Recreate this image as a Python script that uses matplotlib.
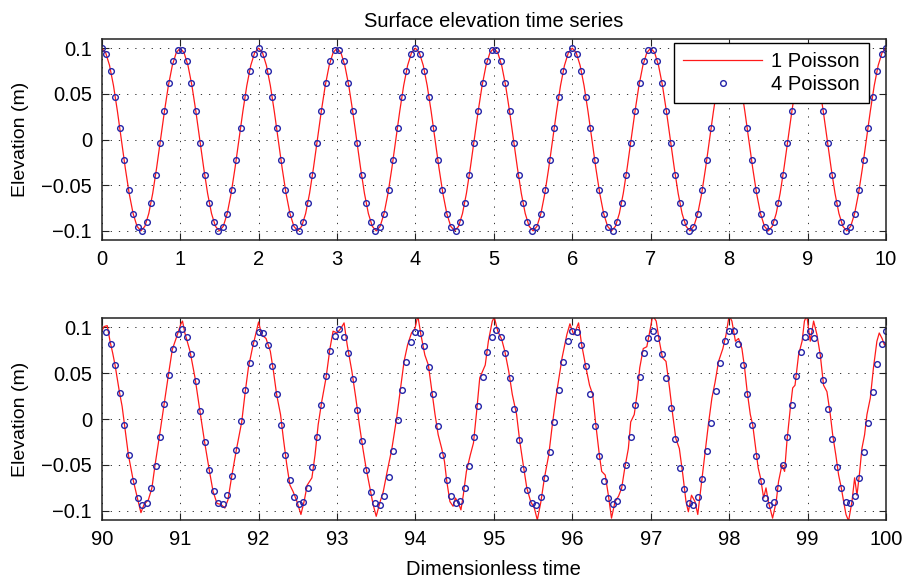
import numpy as np
import matplotlib
matplotlib.use("Agg")
import matplotlib.pyplot as plt
from matplotlib.lines import Line2D

plt.rcParams['font.family'] = ['Liberation Sans', 'DejaVu Sans']
plt.rcParams['lines.scale_dashes'] = False

# sampling interval of the "4 Poisson" markers
marker_dt = 2 / 35

# top panel, t = 0..10
top_line_y = [
    0.1, 0.095, 0.081, 0.059, 0.031, 0.0, -0.031, -0.059, -0.081, -0.095, -0.1, -0.095, -0.081, -0.059, -0.031, 0.0, 0.031, 0.059, 0.081, 0.095,
    0.1, 0.095, 0.081, 0.059, 0.031, 0.0, -0.031, -0.059, -0.081, -0.095, -0.1, -0.095, -0.081, -0.059, -0.031, 0.0, 0.031, 0.059, 0.081, 0.095,
    0.1, 0.095, 0.081, 0.059, 0.031, 0.0, -0.031, -0.059, -0.081, -0.095, -0.1, -0.095, -0.081, -0.059, -0.031, 0.0, 0.031, 0.059, 0.081, 0.095,
    0.1, 0.095, 0.081, 0.059, 0.031, 0.0, -0.031, -0.059, -0.081, -0.095, -0.1, -0.095, -0.081, -0.059, -0.031, 0.0, 0.031, 0.059, 0.081, 0.095,
    0.1, 0.095, 0.081, 0.059, 0.031, 0.0, -0.031, -0.059, -0.081, -0.095, -0.1, -0.095, -0.081, -0.059, -0.031, 0.0, 0.031, 0.059, 0.081, 0.095,
    0.1, 0.095, 0.081, 0.059, 0.031, 0.0, -0.031, -0.059, -0.081, -0.095, -0.1, -0.095, -0.081, -0.059, -0.031, 0.0, 0.031, 0.059, 0.081, 0.095,
    0.1, 0.095, 0.081, 0.059, 0.031, 0.0, -0.031, -0.059, -0.081, -0.095, -0.1, -0.095, -0.081, -0.059, -0.031, 0.0, 0.031, 0.059, 0.081, 0.095,
    0.1, 0.095, 0.081, 0.059, 0.031, 0.0, -0.031, -0.059, -0.081, -0.095, -0.1, -0.095, -0.081, -0.059, -0.031, 0.0, 0.031, 0.059, 0.081, 0.095,
    0.1, 0.095, 0.081, 0.059, 0.031, 0.0, -0.031, -0.059, -0.081, -0.095, -0.1, -0.095, -0.081, -0.059, -0.031, 0.0, 0.031, 0.059, 0.081, 0.095,
    0.1, 0.095, 0.081, 0.059, 0.031, 0.0, -0.031, -0.059, -0.081, -0.095, -0.1, -0.095, -0.081, -0.059, -0.031, 0.0, 0.031, 0.059, 0.081, 0.095,
    0.1,
]
top_line_t = np.linspace(0, 10, len(top_line_y))

top_markers_y = [
    0.100, 0.094, 0.075, 0.047, 0.013, -0.022, -0.055, -0.081, -0.096, -0.100, -0.090, -0.069, -0.039, -0.004, 0.031, 0.062, 0.086, 0.098,
    0.098, 0.086, 0.062, 0.031, -0.004, -0.039, -0.069, -0.090, -0.100, -0.096, -0.081, -0.055, -0.022, 0.013, 0.047, 0.075, 0.094,
    0.100, 0.094, 0.075, 0.047, 0.013, -0.022, -0.055, -0.081, -0.096, -0.100, -0.090, -0.069, -0.039, -0.004, 0.031, 0.062, 0.086, 0.098,
    0.098, 0.086, 0.062, 0.031, -0.004, -0.039, -0.069, -0.090, -0.100, -0.096, -0.081, -0.055, -0.022, 0.013, 0.047, 0.075, 0.094,
    0.100, 0.094, 0.075, 0.047, 0.013, -0.022, -0.055, -0.081, -0.096, -0.100, -0.090, -0.069, -0.039, -0.004, 0.031, 0.062, 0.086, 0.098,
    0.098, 0.086, 0.062, 0.031, -0.004, -0.039, -0.069, -0.090, -0.100, -0.096, -0.081, -0.055, -0.022, 0.013, 0.047, 0.075, 0.094,
    0.100, 0.094, 0.075, 0.047, 0.013, -0.022, -0.055, -0.081, -0.096, -0.100, -0.090, -0.069, -0.039, -0.004, 0.031, 0.062, 0.086, 0.098,
    0.098, 0.086, 0.062, 0.031, -0.004, -0.039, -0.069, -0.090, -0.100, -0.096, -0.081, -0.055, -0.022, 0.013, 0.047, 0.075, 0.094,
    0.100, 0.094, 0.075, 0.047, 0.013, -0.022, -0.055, -0.081, -0.096, -0.100, -0.090, -0.069, -0.039, -0.004, 0.031, 0.062, 0.086, 0.098,
    0.098, 0.086, 0.062, 0.031, -0.004, -0.039, -0.069, -0.090, -0.100, -0.096, -0.081, -0.055, -0.022, 0.013, 0.047, 0.075, 0.094,
    0.100,
]
top_markers_t = np.arange(len(top_markers_y)) * marker_dt

# bottom panel, t = 90..100
bottom_line_t = [
    90.00, 90.03, 90.07, 90.106, 90.14, 90.17, 90.20, 90.225, 90.26, 90.29, 90.34, 90.40, 90.46, 90.50, 90.54, 90.595, 90.64, 90.68,
    90.735, 90.795, 90.85, 90.90, 90.956, 91.01, 91.03, 91.06, 91.126, 91.19, 91.25, 91.31, 91.37, 91.42, 91.47, 91.52, 91.57, 91.61,
    91.66, 91.72, 91.785, 91.83, 91.87, 91.92, 91.976, 92.00, 92.04, 92.095, 92.15, 92.19, 92.23, 92.28, 92.316, 92.36, 92.40, 92.44,
    92.49, 92.54, 92.58, 92.62, 92.68, 92.72, 92.76, 92.805, 92.86, 92.91, 92.95, 93.00, 93.05, 93.09, 93.13, 93.19, 93.24, 93.285,
    93.33, 93.37, 93.42, 93.46, 93.50, 93.55, 93.59, 93.64, 93.70, 93.76, 93.81, 93.855, 93.90, 93.95, 93.995, 94.03, 94.07, 94.12,
    94.165, 94.21, 94.25, 94.29, 94.335, 94.37, 94.40, 94.44, 94.48, 94.51, 94.55, 94.58, 94.61, 94.65, 94.70, 94.74, 94.78, 94.82,
    94.89, 94.93, 94.98, 95.006, 95.05, 95.10, 95.14, 95.19, 95.235, 95.29, 95.33, 95.375, 95.42, 95.47, 95.516, 95.554, 95.60, 95.645,
    95.70, 95.74, 95.79, 95.83, 95.87, 95.93, 95.97, 96.02, 96.08, 96.12, 96.175, 96.22, 96.26, 96.30, 96.345, 96.375, 96.42, 96.46,
    96.50, 96.545, 96.59, 96.63, 96.67, 96.715, 96.745, 96.79, 96.83, 96.86, 96.905, 96.95, 96.98, 97.025, 97.07, 97.11, 97.15, 97.195,
    97.24, 97.28, 97.32, 97.365, 97.41, 97.45, 97.48, 97.52, 97.565, 97.60, 97.65, 97.69, 97.735, 97.78, 97.82, 97.865, 97.92, 97.96,
    98.00, 98.035, 98.08, 98.12, 98.163, 98.197, 98.23, 98.27, 98.30, 98.333, 98.37, 98.40, 98.44, 98.47, 98.50, 98.554, 98.60, 98.63,
    98.673, 98.707, 98.737, 98.78, 98.81, 98.84, 98.885, 98.93, 98.96, 98.99, 99.034, 99.077, 99.12, 99.162, 99.204, 99.247, 99.29, 99.32,
    99.36, 99.396, 99.43, 99.46, 99.49, 99.523, 99.566, 99.60, 99.63, 99.66, 99.693, 99.727, 99.757, 99.80, 99.84, 99.884, 99.914, 99.95,
    99.98, 100.00,
]
bottom_line_y = [
    0.096, 0.101, 0.102, 0.085, 0.072, 0.059, 0.043, 0.030, 0.014, -0.006, -0.039, -0.066, -0.088, -0.102, -0.093, -0.088, -0.075, -0.050,
    -0.019, 0.016, 0.048, 0.076, 0.090, 0.104, 0.107, 0.094, 0.074, 0.045, 0.010, -0.024, -0.055, -0.079, -0.092, -0.093, -0.097, -0.088,
    -0.061, -0.032, -0.003, 0.030, 0.056, 0.077, 0.097, 0.106, 0.092, 0.088, 0.074, 0.052, 0.027, 0.005, -0.021, -0.050, -0.072, -0.079,
    -0.090, -0.104, -0.090, -0.072, -0.064, -0.039, -0.006, 0.019, 0.045, 0.077, 0.096, 0.094, 0.099, 0.105, 0.081, 0.052, 0.023, -0.006,
    -0.032, -0.053, -0.075, -0.093, -0.106, -0.090, -0.079, -0.057, -0.032, 0.001, 0.034, 0.063, 0.081, 0.094, 0.099, 0.113, 0.092, 0.070,
    0.059, 0.030, 0.005, -0.017, -0.032, -0.046, -0.068, -0.090, -0.095, -0.086, -0.092, -0.099, -0.083, -0.057, -0.039, -0.026, 0.008, 0.045,
    0.059, 0.085, 0.107, 0.111, 0.096, 0.087, 0.074, 0.052, 0.027, 0.005, -0.024, -0.050, -0.075, -0.090, -0.097, -0.110, -0.090, -0.064,
    -0.039, -0.010, 0.023, 0.045, 0.067, 0.092, 0.104, 0.092, 0.105, 0.081, 0.056, 0.037, 0.027, -0.006, -0.039, -0.057, -0.061, -0.083,
    -0.108, -0.090, -0.084, -0.075, -0.053, -0.032, -0.003, 0.005, 0.030, 0.056, 0.077, 0.079, 0.092, 0.113, 0.107, 0.085, 0.067, 0.063,
    0.034, 0.005, -0.021, -0.032, -0.061, -0.090, -0.101, -0.083, -0.090, -0.104, -0.068, -0.039, -0.006, 0.023, 0.040, 0.063, 0.077, 0.092,
    0.113, 0.107, 0.085, 0.088, 0.077, 0.056, 0.030, 0.005, -0.006, -0.028, -0.053, -0.064, -0.086, -0.075, -0.090, -0.108, -0.090, -0.068,
    -0.050, -0.057, -0.024, 0.012, 0.034, 0.037, 0.070, 0.085, 0.107, 0.113, 0.085, 0.107, 0.092, 0.070, 0.037, 0.030, 0.005, -0.017,
    -0.039, -0.061, -0.075, -0.090, -0.104, -0.111, -0.090, -0.064, -0.083, -0.061, -0.032, -0.017, 0.005, 0.023, 0.056, 0.085, 0.094, 0.088,
    0.081, 0.083,
]

bottom_markers_y = [
    0.095, 0.082, 0.059, 0.028, -0.006, -0.039, -0.067, -0.086, -0.094, -0.091, -0.075, -0.051, -0.019, 0.016, 0.048, 0.076, 0.093, 0.098,
    0.090, 0.071, 0.042, 0.009, -0.025, -0.055, -0.078, -0.091, -0.093, -0.083, -0.062, -0.034, -0.002, 0.032, 0.061, 0.083, 0.095,
    0.094, 0.081, 0.058, 0.027, -0.006, -0.039, -0.066, -0.085, -0.093, -0.090, -0.075, -0.052, -0.020, 0.015, 0.047, 0.074, 0.091, 0.098,
    0.090, 0.072, 0.044, 0.010, -0.024, -0.055, -0.079, -0.092, -0.094, -0.084, -0.063, -0.035, -0.001, 0.032, 0.062, 0.084, 0.095,
    0.094, 0.080, 0.057, 0.027, -0.007, -0.039, -0.066, -0.084, -0.092, -0.089, -0.075, -0.051, -0.020, 0.014, 0.046, 0.073, 0.090, 0.097,
    0.090, 0.072, 0.045, 0.011, -0.023, -0.054, -0.077, -0.092, -0.094, -0.085, -0.064, -0.036, -0.003, 0.032, 0.062, 0.085, 0.096,
    0.095, 0.081, 0.058, 0.027, -0.007, -0.040, -0.067, -0.086, -0.093, -0.089, -0.074, -0.050, -0.020, 0.015, 0.046, 0.072, 0.089, 0.096,
    0.088, 0.071, 0.045, 0.012, -0.022, -0.053, -0.076, -0.091, -0.094, -0.085, -0.065, -0.035, -0.004, 0.031, 0.061, 0.085, 0.096,
    0.096, 0.082, 0.059, 0.027, -0.006, -0.040, -0.067, -0.086, -0.094, -0.090, -0.075, -0.050, -0.019, 0.015, 0.047, 0.073, 0.090, 0.096,
    0.088, 0.070, 0.043, 0.011, -0.022, -0.052, -0.075, -0.090, -0.092, -0.084, -0.064, -0.036, -0.004, 0.030, 0.060, 0.082, 0.096,
]
bottom_markers_t = 90 + np.arange(1, len(bottom_markers_y) + 1) * marker_dt

y_ticks = [-0.1, -0.05, 0, 0.05, 0.1]
y_tick_labels = ['\u22120.1', '\u22120.05', '0', '0.05', '0.1']

line_color = '#ff1a1a'
marker_color = '#2424a8'
fs = 14.5

fig = plt.figure(figsize=(9.05, 5.83), dpi=100)
ax1 = fig.add_axes([0.1124, 0.5883, 0.8666, 0.3448])
ax2 = fig.add_axes([0.1124, 0.1081, 0.8666, 0.3459])


def style(ax, xlim, xticks):
    ax.set_xlim(xlim)
    ax.set_ylim(-0.11, 0.11)
    ax.set_xticks(xticks)
    ax.set_xticklabels([str(x) for x in xticks])
    ax.set_yticks(y_ticks)
    ax.set_yticklabels(y_tick_labels)
    ax.tick_params(direction='in', top=True, right=True, length=5, width=0.8,
                   labelsize=fs, color='#222222')
    ax.tick_params(axis='x', pad=7)
    ax.tick_params(axis='y', pad=7)
    ax.grid(True, color='#333333', linestyle=(0, (0.9, 5.0)), linewidth=0.7)
    for s in ax.spines.values():
        s.set_linewidth(1.1)
        s.set_color('#222222')


ax1.plot(top_line_t, top_line_y, color=line_color, lw=0.9)
ax1.plot(top_markers_t, top_markers_y, 'o', mfc='none', mec=marker_color, ms=4.1, mew=1.0)
style(ax1, (0, 10), list(range(0, 11)))
ax1.set_title('Surface elevation time series', fontsize=14.5, pad=9)

ax2.plot(bottom_line_t, bottom_line_y, color=line_color, lw=0.9)
ax2.plot(bottom_markers_t, bottom_markers_y, 'o', mfc='none', mec=marker_color, ms=4.1, mew=1.0)
style(ax2, (90, 100), list(range(90, 101)))
ax2.set_xlabel('Dimensionless time', fontsize=fs, labelpad=8)

for ax in (ax1, ax2):
    ax.set_ylabel('Elevation (m)', fontsize=fs - 0.5, labelpad=9)

handles = [Line2D([], [], color=line_color, lw=0.9),
           Line2D([], [], ls='none', marker='o', mfc='none', mec=marker_color, ms=4.1, mew=1.0)]
leg = ax1.legend(handles, ['1 Poisson', '4 Poisson'], loc='upper right',
                 bbox_to_anchor=(868.7 / 905, 1 - 43.3 / 583), bbox_transform=fig.transFigure,
                 borderaxespad=0, fontsize=fs, fancybox=False, framealpha=1, edgecolor='black',
                 handlelength=3.9, handletextpad=0.45, labelspacing=0.2, borderpad=0.45)
leg.get_frame().set_linewidth(1.0)

fig.savefig('out.png', dpi=100)
